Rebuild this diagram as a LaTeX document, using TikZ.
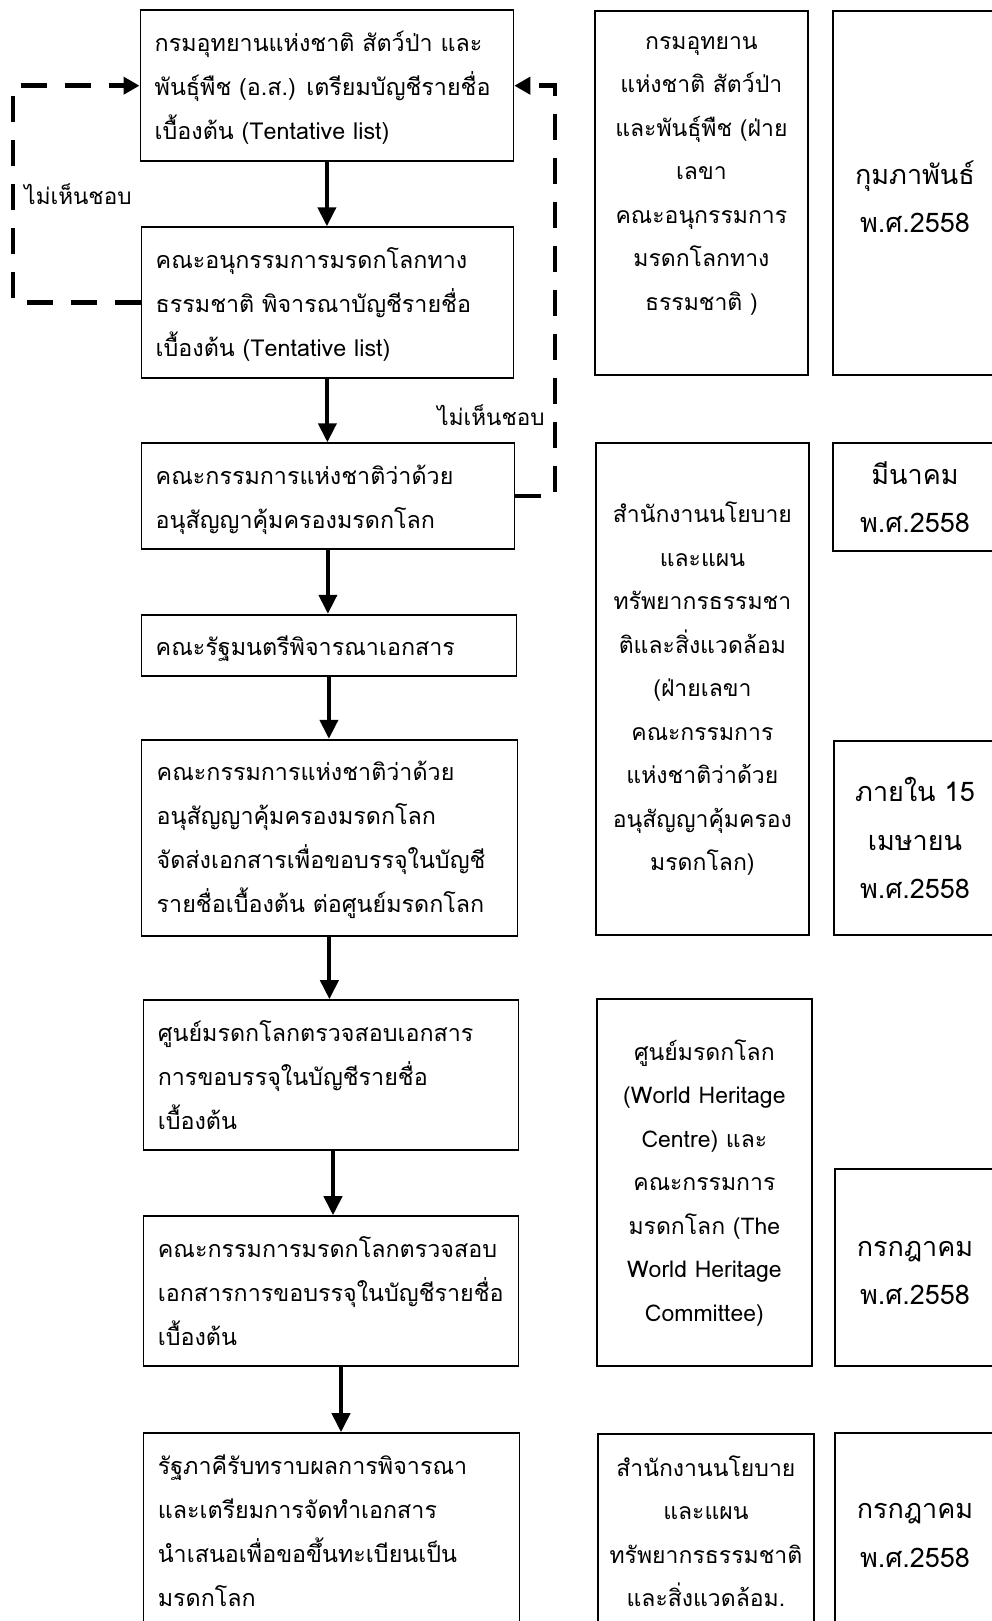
\documentclass[tikz,border=0pt]{standalone}
\usepackage{fontspec}
\setmainfont{Loma}[Script=Thai]
\usetikzlibrary{arrows.meta}
\begin{document}
\begin{tikzpicture}[x=1pt,y=-1pt,
  box/.style={draw=black, line width=1.8pt, rectangle, inner sep=0pt, anchor=north west},
  ltxt/.style={anchor=north west, inner sep=0pt, align=left, font=\fontsize{23.3}{44}\selectfont},
  mtxt/.style={anchor=north, inner sep=0pt, align=center, font=\fontsize{23}{43.5}\selectfont},
  rtxt/.style={anchor=north, inner sep=0pt, align=center, font=\fontsize{27}{48.5}\selectfont},
  lbl/.style={inner sep=0pt, font=\fontsize{22.5}{26}\selectfont},
  flow/.style={line width=4pt, -{Triangle[length=19pt,width=18pt]}},
  back/.style={line width=4.8pt, dash pattern=on 26pt off 18pt, -{Triangle[length=16pt,width=17pt]}}
]
\useasboundingbox (0,0) rectangle (992,1621);
\clip (0,0) rectangle (992,1621);
\fill[white] (0,0) rectangle (992,1621);

% left column boxes
\node[box, minimum width=373pt, minimum height=151pt] (B1) at (139.5,9.3) {};
\node[box, minimum width=372pt, minimum height=151pt] (B2) at (140.5,226.3) {};
\node[box, minimum width=373pt, minimum height=105.4pt] (B3) at (140.5,442.3) {};
\node[box, minimum width=375pt, minimum height=61pt] (B4) at (140.5,613.8) {};
\node[box, minimum width=376pt, minimum height=196.4pt] (B5) at (140.5,738.8) {};
\node[box, minimum width=375pt, minimum height=150pt] (B6) at (142.6,999.2) {};
\node[box, minimum width=375pt, minimum height=150pt] (B7) at (142.6,1215.2) {};
\node[box, minimum width=376pt, minimum height=218pt] (B8) at (142.6,1432.2) {};

\node[ltxt] (B1t) at ([xshift=15pt,yshift=-11pt]B1.north west) {\strut กรมอุทยานแห่งชาติ สัตว์ป่า และ\\พันธุ์พืช (อ.ส.) เตรียมบัญชีรายชื่อ\\เบื้องต้น (Tentative list)};
\node[ltxt] (B2t) at ([xshift=15pt,yshift=-11pt]B2.north west) {\strut คณะอนุกรรมการมรดกโลกทาง\\ธรรมชาติ พิจารณาบัญชีรายชื่อ\\เบื้องต้น (Tentative list)};
\node[ltxt] (B3t) at ([xshift=15pt,yshift=-11pt]B3.north west) {\strut คณะกรรมการแห่งชาติว่าด้วย\\อนุสัญญาคุ้มครองมรดกโลก};
\node[ltxt] (B4t) at ([xshift=15pt,yshift=-11pt]B4.north west) {\strut คณะรัฐมนตรีพิจารณาเอกสาร};
\node[ltxt] (B5t) at ([xshift=16pt,yshift=-11pt]B5.north west) {\strut คณะกรรมการแห่งชาติว่าด้วย\\อนุสัญญาคุ้มครองมรดกโลก\\จัดส่งเอกสารเพื่อขอบรรจุในบัญชี\\รายชื่อเบื้องต้น ต่อศูนย์มรดกโลก};
\node[ltxt] (B6t) at ([xshift=15pt,yshift=-11pt]B6.north west) {\strut ศูนย์มรดกโลกตรวจสอบเอกสาร\\การขอบรรจุในบัญชีรายชื่อ\\เบื้องต้น};
\node[ltxt] (B7t) at ([xshift=15pt,yshift=-11pt]B7.north west) {\strut คณะกรรมการมรดกโลกตรวจสอบ\\เอกสารการขอบรรจุในบัญชีรายชื่อ\\เบื้องต้น};
\node[ltxt] (B8t) at ([xshift=15pt,yshift=-11pt]B8.north west) {\strut รัฐภาคีรับทราบผลการพิจารณา\\และเตรียมการจัดทำเอกสาร\\นำเสนอเพื่อขอขึ้นทะเบียนเป็น\\มรดกโลก};

% middle column
\node[box, minimum width=213pt, minimum height=363.7pt] (M1) at (594,10.3) {};
\node[box, minimum width=213pt, minimum height=492pt] (M2) at (595,442) {};
\node[box, minimum width=215pt, minimum height=367pt] (M3) at (596,998) {};
\node[box, minimum width=216pt, minimum height=217pt] (M4) at (597,1433) {};

\node[mtxt] (M1t) at ([yshift=-8.5pt]M1.north) {\strut กรมอุทยาน\\แห่งชาติ สัตว์ป่า\\และพันธุ์พืช (ฝ่าย\\เลขา\\คณะอนุกรรมการ\\มรดกโลกทาง\\ธรรมชาติ )};
\node[mtxt] (M2t) at ([yshift=-50pt]M2.north) {\strut สำนักงานนโยบาย\\และแผน\\ทรัพยากรธรรมชา\\ติและสิ่งแวดล้อม\\(ฝ่ายเลขา\\คณะกรรมการ\\แห่งชาติว่าด้วย\\อนุสัญญาคุ้มครอง\\มรดกโลก)};
\node[mtxt] (M3t) at ([yshift=-31.5pt]M3.north) {\strut ศูนย์มรดกโลก\\(World Heritage\\Centre) และ\\คณะกรรมการ\\มรดกโลก (The\\World Heritage\\Committee)};
\node[mtxt] (M4t) at ([yshift=-12.5pt]M4.north) {\strut สำนักงานนโยบาย\\และแผน\\ทรัพยากรธรรมชาติ\\และสิ่งแวดล้อม.};

% right column
\node[box, minimum width=168pt, minimum height=363.7pt] (R1) at (832,10.3) {};
\node[box, minimum width=168pt, minimum height=108pt] (R2) at (832,442) {};
\node[box, minimum width=167pt, minimum height=194pt] (R3) at (833,740) {};
\node[box, minimum width=166pt, minimum height=197pt] (R4) at (834,1168) {};
\node[box, minimum width=166pt, minimum height=218pt] (R5) at (834,1432) {};

\node[rtxt] (R1t) at ([xshift=83pt,yshift=-140pt]R1.north west) {\strut กุมภาพันธ์\\พ.ศ.2558};
\node[rtxt] (R2t) at ([xshift=83pt,yshift=-8pt]R2.north west) {\strut มีนาคม\\พ.ศ.2558};
\node[rtxt] (R3t) at ([xshift=82pt,yshift=-27.5pt]R3.north west) {\strut ภายใน 15\\เมษายน\\พ.ศ.2558};
\node[rtxt] (R4t) at ([xshift=81pt,yshift=-54pt]R4.north west) {\strut กรกฎาคม\\พ.ศ.2558};
\node[rtxt] (R5t) at ([xshift=81pt,yshift=-52.5pt]R5.north west) {\strut กรกฎาคม\\พ.ศ.2558};

% flow arrows
\draw[flow] (B1.south) -- (B1.south |- B2.north);
\draw[flow] (B2.south) -- (B2.south |- B3.north);
\draw[flow] (B3.south) -- (B3.south |- B4.north);
\draw[flow] (B4.south) -- (B4.south |- B5.north);
\draw[flow] (B5.south) -- (B5.south |- B6.north);
\draw[flow] ([xshift=2pt]B6.south) -- ([xshift=2pt]B6.south |- B7.north);
\draw[flow] ([xshift=10pt]B7.south) -- ([xshift=10pt]B7.south |- B8.north);

% feedback loops
\coordinate (Lx) at (13,0);
\coordinate (Rx) at (555,0);
\draw[back] (B2.west) -| (Lx |- B1.west) -- (B1.west);
\draw[back] (B3.east) -| (Rx |- B1.east) -- (B1.east);
\node[lbl] (L1) at (78,194) {ไม่เห็นชอบ};
\node[lbl] (L2) at (491,415) {ไม่เห็นชอบ};
\end{tikzpicture}
\end{document}
